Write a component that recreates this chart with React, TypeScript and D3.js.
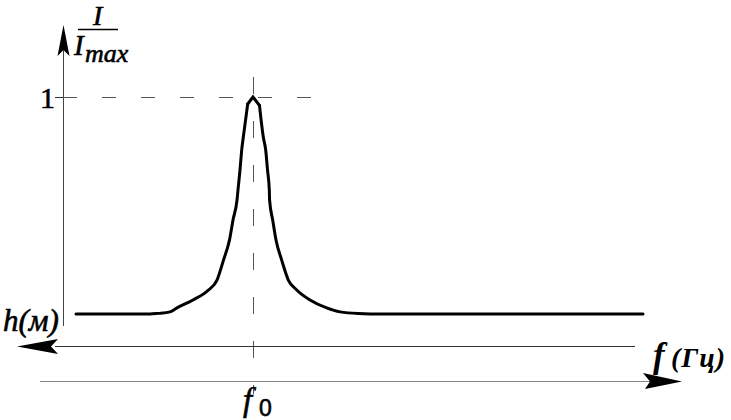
import React from "react";
import * as d3 from "d3";

// Frequency offset from f0 (arbitrary units) and relative intensity I/Imax
const freqOffsets = [-177, -103, -95, -83, -76, -60, -44.5, -36, -29.5, -23.5, -20, -16, -15, -13, -11.3, -9.7, -5.3, 0, 6.5, 10.3, 12.7, 14.5, 16.3, 16.6, 19.7, 23, 28.7, 35.3, 43.7, 57, 73.7, 87, 105, 130, 390];
const intensity = [0.1285, 0.1285, 0.131, 0.137, 0.153, 0.185, 0.225, 0.265, 0.345, 0.426, 0.506, 0.586, 0.627, 0.707, 0.787, 0.839, 0.972, 1.0, 0.966, 0.839, 0.787, 0.707, 0.627, 0.586, 0.506, 0.426, 0.345, 0.265, 0.225, 0.185, 0.153, 0.137, 0.1305, 0.1285, 0.1285];
const yTickValues = [1];
const yTickLabels = ["1"];
const f0Value = 0;

const W = 731;
const H = 420;

type Pt = { f: number; v: number };

export default function App() {
  const x = d3.scaleLinear().domain([-180, 430]).range([73, 683]);
  const y = d3.scaleLinear().domain([0, 1]).range([346, 97]);
  const data: Pt[] = freqOffsets.map((f, i) => ({ f, v: intensity[i] }));
  const peakIdx = d3.maxIndex(data, (d) => d.v);
  // smooth flanks, straight segments around the pointed apex
  const leftFlank = data.slice(0, peakIdx);
  const apex = data.slice(peakIdx - 1, peakIdx + 2);
  const rightFlank = data.slice(peakIdx + 1);
  const smooth = d3
    .line<Pt>()
    .x((d) => x(d.f))
    .y((d) => y(d.v))
    .curve(d3.curveMonotoneX);
  const straight = d3
    .line<Pt>()
    .x((d) => x(d.f))
    .y((d) => y(d.v))
    .curve(d3.curveLinear);

  const axisX = 63.5;
  const hAxisY = 346.5;
  const fAxisY = 381.5;
  const f0x = Math.round(x(f0Value)) + 0.5;
  const serif = "'Liberation Serif', 'Times New Roman', serif";
  const bold = { stroke: "#000", strokeWidth: 0.6 };

  return (
    <svg
      width={W}
      height={H}
      style={{ position: "absolute", left: 0, top: 0, background: "#fff" }}
    >
      {/* vertical axis */}
      <line x1={axisX} y1={40} x2={axisX} y2={326} stroke="#444" strokeWidth={1} />
      <path
        d={`M${axisX},25 L${axisX + 6},56 L${axisX},50 L${axisX - 6},56 Z`}
        fill="#000"
      />
      {/* I / Imax label */}
      <text x={93} y={25} fontFamily={serif} fontStyle="italic" fontSize={28} fill="#000" {...bold}>
        I
      </text>
      <line x1={78} y1={29.5} x2={118} y2={29.5} stroke="#000" strokeWidth={1.5} />
      <text x={74} y={55} fontFamily={serif} fontStyle="italic" fontSize={29} fill="#000" {...bold}>
        I
      </text>
      <text x={85} y={62} fontFamily={serif} fontStyle="italic" fontSize={26} fill="#000" {...bold}>
        max
      </text>

      {/* tick at 1 */}
      {yTickValues.map((v, i) => (
        <g key={i}>
          <line x1={55} y1={Math.round(y(v)) + 0.5} x2={70} y2={Math.round(y(v)) + 0.5} stroke="#333" strokeWidth={1} />
          <line
            x1={63}
            y1={Math.round(y(v)) + 0.5}
            x2={312}
            y2={Math.round(y(v)) + 0.5}
            stroke="#555"
            strokeWidth={1}
            strokeDasharray="14 25"
          />
          <text x={55} y={y(v) + 11} textAnchor="end" fontFamily={serif} fontSize={30} fill="#000" {...bold}>
            {yTickLabels[i]}
          </text>
        </g>
      ))}

      {/* vertical dashed at f0 */}
      <line
        x1={f0x}
        y1={77}
        x2={f0x}
        y2={394}
        stroke="#555"
        strokeWidth={1}
        strokeDasharray="17 27"
      />

      {/* h axis (arrow left) */}
      <line x1={55} y1={hAxisY} x2={635} y2={hAxisY} stroke="#333" strokeWidth={1} />
      <path d={`M17,${hAxisY} L58,339 L51,${hAxisY} L58,354 Z`} fill="#000" />
      <text x={3} y={331} fontFamily={serif} fontStyle="italic" fontSize={31} fill="#000" {...bold}>
        h(м)
      </text>

      {/* f axis (arrow right) */}
      <line x1={40} y1={fAxisY} x2={650} y2={fAxisY} stroke="#888" strokeWidth={1} />
      <path d={`M682,${fAxisY} L643,373 L650,${fAxisY} L645,389 Z`} fill="#000" />
      <text x={653} y={367} fontFamily={serif} fontStyle="italic" fontWeight="bold" fontSize={35} fill="#000">
        f
      </text>
      <text x={671} y={367} fontFamily={serif} fontStyle="italic" fontWeight="bold" fontSize={28} letterSpacing={1} fill="#000">
        (Гц)
      </text>

      {/* f0 label */}
      <text x={243} y={411} fontFamily={serif} fontStyle="italic" fontSize={33} fill="#000" {...bold}>
        f
      </text>
      <text x={259} y={416} fontFamily="'Liberation Sans', Arial, sans-serif" fontSize={23} fill="#000" {...bold}>
        0
      </text>

      {/* resonance curve */}
      {[leftFlank, rightFlank].map((part, i) => (
        <path
          key={i}
          d={smooth(part) || ""}
          fill="none"
          stroke="#000"
          strokeWidth={3}
          strokeLinejoin="round"
          strokeLinecap="round"
        />
      ))}
      <path
        d={straight(apex) || ""}
        fill="none"
        stroke="#000"
        strokeWidth={3}
        strokeLinejoin="miter"
        strokeLinecap="round"
      />
    </svg>
  );
}
